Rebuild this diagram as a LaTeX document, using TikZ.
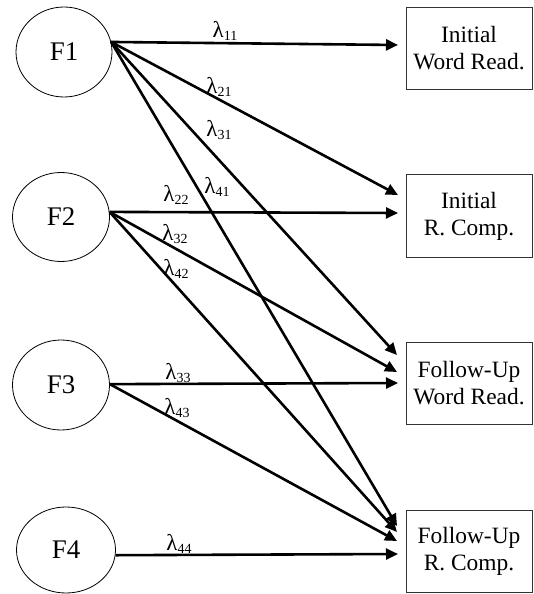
\documentclass[tikz,border=0pt]{standalone}
\usepackage{fontspec}
\setmainfont{Liberation Serif}
\usetikzlibrary{shapes.geometric,arrows.meta}
\begin{document}
\begin{tikzpicture}[x=1bp,y=-1bp,
  factor/.style={ellipse,draw,line width=0.8bp,inner sep=0pt,font=\fontsize{27}{27}\selectfont},
  measure/.style={rectangle,draw=black!80,line width=1bp,minimum width=126bp,minimum height=82bp,inner sep=0pt,align=center,font=\fontsize{23.5}{27}\selectfont},
  load/.style={line width=2.6bp,-{Triangle[length=12bp,width=11bp]}},
  lab/.style={inner sep=0pt,font=\fontsize{23}{23}\selectfont}]
\useasboundingbox (0,0) rectangle (534,594);
\node[factor,minimum width=96bp,minimum height=90bp] (f1) at (64,52) {F1};
\node[factor,minimum width=97bp,minimum height=89bp] (f2) at (61,217) {F2};
\node[factor,minimum width=97bp,minimum height=90bp] (f3) at (61,385) {F3};
\node[factor,minimum width=99bp,minimum height=86bp] (f4) at (66,550) {F4};
\node[measure] (b1) at (469,48.5) {Initial\\Word Read.};
\node[measure] (b2) at (469,216) {Initial\\R. Comp.};
\node[measure] (b3) at (469,383) {Follow-Up\\Word Read.};
\node[measure] (b4) at (469,551) {Follow-Up\\R. Comp.};
\coordinate (t11) at (398,45);
\coordinate (t21) at (398,195);
\coordinate (t22) at (398,213);
\coordinate (t31) at (397,355);
\coordinate (t32) at (397,372);
\coordinate (t33) at (398,383);
\coordinate (t41) at (397,526);
\coordinate (t42) at (397,532);
\coordinate (t43) at (397,541);
\coordinate (t44) at (398,554);
\draw[load] (f1.12) -- (t11);
\draw[load] (f1.12) -- (t21);
\draw[load] (f1.12) -- (t31);
\draw[load] (f1.12) -- (t41);
\draw[load] (f2.6) -- (t22);
\draw[load] (f2.6) -- (t32);
\draw[load] (f2.6) -- (t42);
\draw[load] (f3.1) -- (t33);
\draw[load] (f3.1) -- (t43);
\draw[load] (f4.-6) -- (t44);
\newcommand{\lam}[1]{λ{\fontsize{14}{14}\selectfont\raisebox{-3bp}{#1}}}
\node[lab] (l11) at (225,31) {\lam{11}};
\node[lab] (l21) at (219,87) {\lam{21}};
\node[lab] (l31) at (219,130) {\lam{31}};
\node[lab] (l41) at (217,187) {\lam{41}};
\node[lab] (l22) at (176,195) {\lam{22}};
\node[lab] (l32) at (175,234) {\lam{32}};
\node[lab] (l42) at (176,269) {\lam{42}};
\node[lab] (l33) at (178,373) {\lam{33}};
\node[lab] (l43) at (177,408) {\lam{43}};
\node[lab] (l44) at (179,544) {\lam{44}};
\end{tikzpicture}
\end{document}
